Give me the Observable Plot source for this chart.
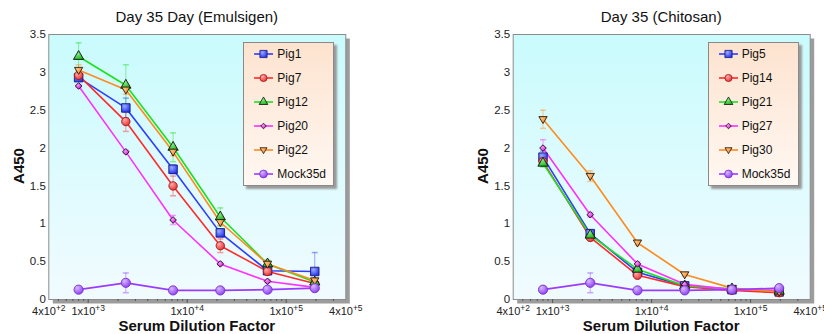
<!DOCTYPE html>
<html><head><meta charset="utf-8">
<script src="https://cdn.jsdelivr.net/npm/d3@7"></script>
<script src="https://cdn.jsdelivr.net/npm/@observablehq/plot@0.6"></script>
<style>
body{margin:0;background:#fff;font-family:"Liberation Sans",Arial,Helvetica,sans-serif;color:#111}
#wrap{position:relative;width:824px;height:334px;overflow:hidden}
.panel{position:absolute;top:0}
.panel svg{overflow:visible}
.title{position:absolute;top:9px;font-size:15px;line-height:16px;white-space:nowrap;transform:translateX(-50%)}
.xlab{position:absolute;top:318px;font-size:15px;font-weight:bold;line-height:15px;white-space:nowrap;transform:translateX(-50%)}
.ylab{position:absolute;font-size:15px;font-weight:bold;line-height:15px;white-space:nowrap;transform:translate(-50%,-50%) rotate(-90deg)}
.legend{position:absolute;top:42px;width:89px;height:142px;border:1px solid #8a8a8a;background:linear-gradient(#fde3cf,#fff8f2);box-shadow:3px 3px 2px #9a9a9a}
.legend .row{position:absolute;left:0;height:16px;width:89px}
.legend svg{position:absolute;left:8px;top:0}
.legend span{position:absolute;left:33px;top:1px;font-size:12px;line-height:14px}
</style></head>
<body>
<svg width="0" height="0" style="position:absolute">
<defs>
<linearGradient id="bg" x1="0" y1="0" x2="0" y2="1"><stop offset="0" stop-color="#c9fbfd"/><stop offset="1" stop-color="#f1fbff"/></linearGradient>
<radialGradient id="gBlue" cx="0.35" cy="0.3" r="0.75"><stop offset="0" stop-color="#9aaaff"/><stop offset="1" stop-color="#2233ee"/></radialGradient>
<radialGradient id="gRed" cx="0.35" cy="0.3" r="0.75"><stop offset="0" stop-color="#ffaaaa"/><stop offset="1" stop-color="#e83030"/></radialGradient>
<radialGradient id="gGreen" cx="0.35" cy="0.3" r="0.75"><stop offset="0" stop-color="#90f090"/><stop offset="1" stop-color="#18b818"/></radialGradient>
<radialGradient id="gMag" cx="0.35" cy="0.3" r="0.75"><stop offset="0" stop-color="#ff99ff"/><stop offset="1" stop-color="#d818d8"/></radialGradient>
<radialGradient id="gOrg" cx="0.35" cy="0.3" r="0.75"><stop offset="0" stop-color="#ffc080"/><stop offset="1" stop-color="#e8801c"/></radialGradient>
<radialGradient id="gPur" cx="0.35" cy="0.3" r="0.75"><stop offset="0" stop-color="#d8b8ff"/><stop offset="1" stop-color="#8c3cf0"/></radialGradient>
</defs></svg>
<div id="wrap"></div>
<script>
// ---------- data ----------
const dilutions = [800, 2400, 7200, 21600, 64800, 194400];
const xTicks = [400, 1000, 10000, 100000, 400000];
const xTickLabels = ["4x10^+2", "1x10^+3", "1x10^+4", "1x10^+5", "4x10^+5"];
const yTicks = [0, 0.5, 1, 1.5, 2, 2.5, 3, 3.5];

const emulsigenNames = ["Pig1", "Pig7", "Pig12", "Pig20", "Pig22", "Mock35d"];
const pig1  = [2.93, 2.53, 1.72, 0.88, 0.38, 0.37];
const pig7  = [2.96, 2.35, 1.50, 0.71, 0.37, 0.21];
const pig12 = [3.21, 2.83, 2.01, 1.09, 0.47, 0.23];
const pig20 = [2.82, 1.95, 1.05, 0.47, 0.24, 0.16];
const pig22 = [3.03, 2.77, 1.95, 1.02, 0.47, 0.25];
const mockE = [0.13, 0.22, 0.12, 0.12, 0.13, 0.15];
const pig1Err  = [0.04, 0.13, 0.06, 0.05, 0.04, 0.25];
const pig7Err  = [0.05, 0.13, 0.13, 0.09, 0.04, 0.03];
const pig12Err = [0.18, 0.27, 0.19, 0.12, 0.05, 0.03];
const pig20Err = [0.02, 0.02, 0.06, 0.02, 0.02, 0.02];
const pig22Err = [0.07, 0.06, 0.05, 0.04, 0.04, 0.03];
const mockEErr = [0.01, 0.13, 0.01, 0.01, 0.01, 0.01];

const chitosanNames = ["Pig5", "Pig14", "Pig21", "Pig27", "Pig30", "Mock35d"];
const pig5  = [1.88, 0.87, 0.36, 0.18, 0.13, 0.10];
const pig14 = [1.82, 0.82, 0.32, 0.17, 0.12, 0.09];
const pig21 = [1.80, 0.85, 0.40, 0.18, 0.14, 0.11];
const pig27 = [2.00, 1.12, 0.47, 0.20, 0.13, 0.12];
const pig30 = [2.38, 1.63, 0.75, 0.33, 0.15, 0.10];
const mockC = [0.13, 0.22, 0.12, 0.12, 0.13, 0.15];
const pig5Err  = [0.08, 0.05, 0.03, 0.02, 0.02, 0.01];
const pig14Err = [0.05, 0.04, 0.03, 0.02, 0.01, 0.01];
const pig21Err = [0.05, 0.04, 0.03, 0.02, 0.01, 0.01];
const pig27Err = [0.11, 0.03, 0.03, 0.02, 0.01, 0.01];
const pig30Err = [0.12, 0.07, 0.03, 0.02, 0.02, 0.01];
const mockCErr = [0.01, 0.13, 0.01, 0.01, 0.01, 0.01];

// ---------- styles ----------
const invTri = {draw(ctx, size) {
  const r = Math.sqrt(size / Math.PI);
  ctx.moveTo(-r * 1.15, -r * 0.75); ctx.lineTo(r * 1.15, -r * 0.75); ctx.lineTo(0, r * 1.2); ctx.closePath();
}};
const diamond = {draw(ctx, size) {
  const r = Math.sqrt(size / Math.PI) * 1.1;
  ctx.moveTo(0, -r); ctx.lineTo(r, 0); ctx.lineTo(0, r); ctx.lineTo(-r, 0); ctx.closePath();
}};
const cap = {draw(ctx) { ctx.moveTo(-3, 0); ctx.lineTo(3, 0); }};
const seriesStyles = [
  {line: "#2d3cff", fill: "url(#gBlue)",  stroke: "#1a1a80", symbol: d3.symbolSquare,   r: 4.8},
  {line: "#ff2a2a", fill: "url(#gRed)",   stroke: "#a01818", symbol: d3.symbolCircle,   r: 4.2},
  {line: "#1ee01e", fill: "url(#gGreen)", stroke: "#111",    symbol: d3.symbolTriangle, r: 3.8},
  {line: "#ff30ff", fill: "url(#gMag)",   stroke: "#111",    symbol: diamond,           r: 3.0},
  {line: "#ff8a1c", fill: "url(#gOrg)",   stroke: "#2a1a08", symbol: invTri,            r: 3.6},
  {line: "#9a3cff", fill: "url(#gPur)",   stroke: "#7a30d0", symbol: d3.symbolCircle,   r: 4.6}
];
const xMinor = [];
for (const p of [100, 1000, 10000, 100000]) for (let k = 2; k <= 9; k++) { const v = k * p; if (v > 400 && v < 400000) xMinor.push(v); }

const wrap = document.getElementById("wrap");

function panel({left, mLeft, mRight, title, names, values, errors}) {
  const rows = [];
  names.forEach((name, i) => dilutions.forEach((x, j) => rows.push({series: name, idx: i, x, y: values[i][j], e: errors[i][j]})));
  const marks = [
    Plot.frame({fill: "#9c9c9c", dx: 4, dy: 4}),
    Plot.frame({fill: "url(#bg)", stroke: "#8c8c8c"}),
    Plot.axisX({ticks: xMinor, tickSize: 2, tickFormat: () => "", stroke: "#555", label: null}),
    Plot.axisX({ticks: [1000, 10000, 100000], tickSize: 4, tickFormat: () => "", stroke: "#555", label: null}),
    Plot.text(xTicks, {x: d => d, text: (d, i) => xTickLabels[i], frameAnchor: "bottom", dy: 8, lineAnchor: "top", fill: "#222", fontSize: 11}),
    Plot.axisY({ticks: yTicks, tickSize: 0, tickPadding: 3, fill: "#222", fontSize: 11.5, tickFormat: d => String(d), label: null})
  ];
  names.forEach((name, i) => {
    const s = seriesStyles[i];
    const d = rows.filter(r => r.idx === i);
    marks.push(
      Plot.ruleX(d, {x: "x", y1: r => r.y - r.e, y2: r => r.y + r.e, stroke: s.line, strokeOpacity: 0.45}),
      Plot.dot(d, {x: "x", y: r => r.y + r.e, symbol: cap, stroke: s.line, strokeOpacity: 0.45, fill: "none"}),
      Plot.dot(d, {x: "x", y: r => r.y - r.e, symbol: cap, stroke: s.line, strokeOpacity: 0.45, fill: "none"}),
      Plot.line(d, {x: "x", y: "y", stroke: s.line, strokeWidth: 1.6})
    );
  });
  names.forEach((name, i) => {
    const s = seriesStyles[i];
    const d = rows.filter(r => r.idx === i);
    marks.push(Plot.dot(d, {x: "x", y: "y", symbol: s.symbol, r: s.r, fill: s.fill, stroke: s.stroke, strokeWidth: 0.9}));
  });
  const plotW = 297;
  const svg = Plot.plot({
    width: mLeft + plotW + mRight, height: 334,
    marginLeft: mLeft, marginRight: mRight, marginTop: 34, marginBottom: 35,
    x: {type: "log", domain: [400, 400000]},
    y: {domain: [0, 3.5]},
    style: {fontFamily: '"Liberation Sans", Arial, sans-serif', fontSize: "11px", background: "transparent", overflow: "visible"},
    marks
  });
  // superscript exponents in x tick labels
  d3.select(svg).selectAll("text").each(function() {
    const t = this.textContent;
    if (t.includes("^")) {
      const [m, e] = t.split("^");
      const sel = d3.select(this); sel.text(null);
      sel.append("tspan").text(m);
      sel.append("tspan").attr("dy", "-4").attr("font-size", "8.5px").text(e);
    }
  });
  const div = document.createElement("div");
  div.className = "panel"; div.style.left = left + "px";
  div.appendChild(svg);
  wrap.appendChild(div);

  const cx = left + mLeft + plotW / 2;
  const tdiv = document.createElement("div"); tdiv.className = "title"; tdiv.style.left = cx + "px"; tdiv.textContent = title; wrap.appendChild(tdiv);
  const xl = document.createElement("div"); xl.className = "xlab"; xl.style.left = cx + "px"; xl.textContent = "Serum Dilution Factor"; wrap.appendChild(xl);
  const yl = document.createElement("div"); yl.className = "ylab"; yl.style.left = (left + mLeft - 30.5) + "px"; yl.style.top = "166px"; yl.textContent = "A450"; wrap.appendChild(yl);

  // legend
  const lg = document.createElement("div"); lg.className = "legend";
  lg.style.left = (left + mLeft + 195) + "px";
  names.forEach((name, i) => {
    const s = seriesStyles[i];
    const row = document.createElement("div"); row.className = "row"; row.style.top = (3 + i * 23.9) + "px";
    const ls = d3.create("svg").attr("width", 22).attr("height", 16);
    ls.append("line").attr("x1", 2).attr("x2", 21).attr("y1", 8).attr("y2", 8).attr("stroke", s.line).attr("stroke-width", 1.6);
    const rr = s.r * 0.85;
    ls.append("path").attr("transform", "translate(11.5,8)")
      .attr("d", d3.symbol(s.symbol, rr * rr * Math.PI)())
      .attr("fill", s.fill).attr("stroke", s.stroke).attr("stroke-width", 0.8);
    row.appendChild(ls.node());
    const sp = document.createElement("span"); sp.textContent = name; row.appendChild(sp);
    lg.appendChild(row);
  });
  wrap.appendChild(lg);
}

panel({left: 0, mLeft: 48.3, mRight: 66.7, title: "Day 35 Day (Emulsigen)", names: emulsigenNames,
  values: [pig1, pig7, pig12, pig20, pig22, mockE], errors: [pig1Err, pig7Err, pig12Err, pig20Err, pig22Err, mockEErr]});
panel({left: 412, mLeft: 100.7, mRight: 14.3, title: "Day 35 (Chitosan)", names: chitosanNames,
  values: [pig5, pig14, pig21, pig27, pig30, mockC], errors: [pig5Err, pig14Err, pig21Err, pig27Err, pig30Err, mockCErr]});
</script>
</body></html>
